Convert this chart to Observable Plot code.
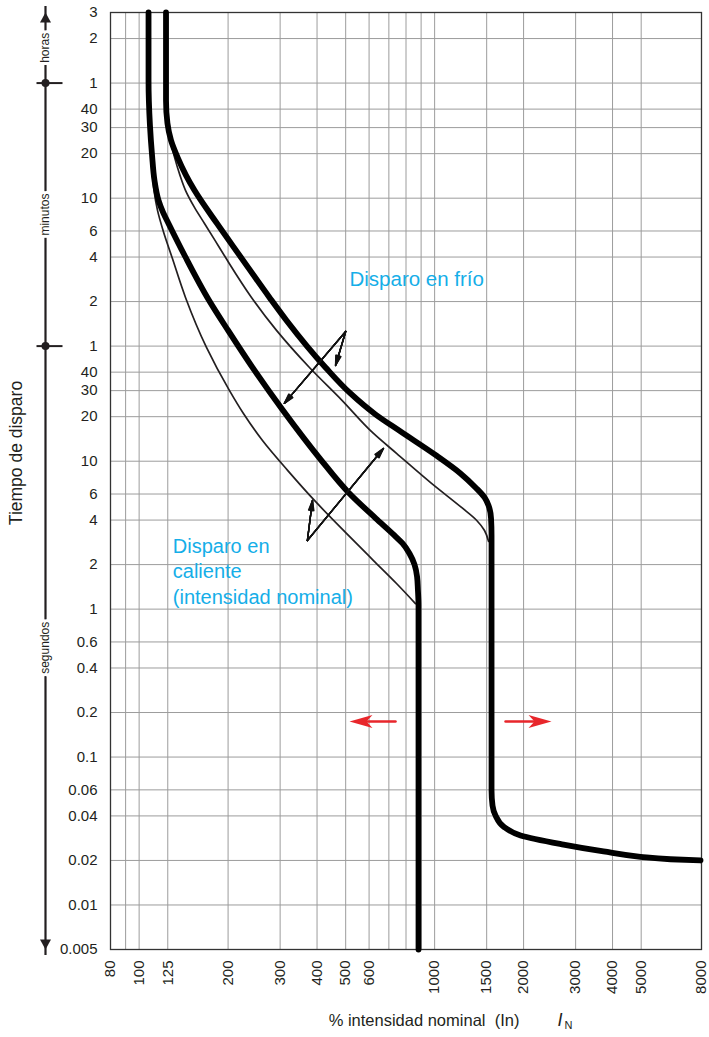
<!DOCTYPE html>
<html>
<head>
<meta charset="utf-8">
<script src="https://cdn.jsdelivr.net/npm/d3@7"></script>
<script src="https://cdn.jsdelivr.net/npm/@observablehq/plot@0.6"></script>
<style>
  html, body { margin: 0; padding: 0; background: #fff; }
  #chart svg { display: block; }
</style>
</head>
<body>
<div id="chart"></div>
<script>
// ---------- Axis definitions ----------
const xDomain = [80, 8000];                 // % intensidad nominal
const yDomain = [0.005, 10800];             // seconds (0.005 s ... 3 h)
const xTickValues = [80, 100, 125, 200, 300, 400, 500, 600, 1000, 1500, 2000, 3000, 4000, 5000, 8000];
const xGridValues = [80, 90, 100, 125, 200, 300, 400, 500, 600, 700, 800, 900, 1000, 1500, 2000, 3000, 4000, 5000, 8000];
const yTickValues = [10800, 7200, 3600, 2400, 1800, 1200, 600, 360, 240, 120, 60, 40, 30, 20, 10, 6, 4, 2, 1, 0.6, 0.4, 0.2, 0.1, 0.06, 0.04, 0.02, 0.01, 0.005];
const yTickLabels = ["3", "2", "1", "40", "30", "20", "10", "6", "4", "2", "1", "40", "30", "20", "10", "6", "4", "2", "1", "0.6", "0.4", "0.2", "0.1", "0.06", "0.04", "0.02", "0.01", "0.005"];

// time units on the left guide (seconds)
const unitNames = ["horas", "minutos", "segundos"];
const unitUpper = [10800, 3600, 60];
const unitLower = [3600, 60, 0.005];
const unitBreaks = [3600, 60];

// ---------- Curves (x: % In, y: seconds) ----------
// Disparo en frío – curva gruesa
const frioGruesaI = [123.3, 123.3, 123.3, 124.7, 128.2, 134.9, 144.1, 153.9, 183.4, 221.1, 276.1, 315.3, 427.4, 519, 631, 766, 1015, 1223, 1375, 1475, 1522, 1552, 1558, 1558, 1570, 1607, 1711, 1953, 2730, 3728, 4973, 6284, 7938];
const frioGruesaT = [10800, 5130, 2750, 1920, 1476, 1132, 856, 678, 405, 239, 128, 89.5, 43.0, 28.7, 20.7, 15.9, 10.9, 8.27, 6.65, 5.69, 5.02, 4.11, 3.15, 0.0594, 0.047, 0.0403, 0.0339, 0.0295, 0.0256, 0.0230, 0.02117, 0.02037, 0.01999];
// Disparo en frío – curva fina
const frioFinaI = [123.3, 123.3, 123.3, 124.7, 127.7, 131.8, 137.5, 143.5, 153.9, 166.4, 180.6, 195.9, 240, 291.7, 377, 484, 621, 743, 976, 1233, 1386, 1475, 1522];
const frioFinaT = [10800, 5130, 2750, 1920, 1476, 1132, 856, 678, 520, 405, 311, 239, 128, 76.6, 43.0, 26.0, 15.4, 11.3, 7.08, 4.87, 3.99, 3.40, 2.87];
// Disparo en caliente – curva gruesa
const calGruesaI = [107.6, 107.6, 108.8, 110.6, 112.7, 116.3, 120.5, 125.7, 143, 171.7, 200, 245.7, 305.6, 411, 511, 632, 731, 779, 822, 855, 872, 878, 882, 882];
const calGruesaT = [10800, 3750, 1860, 1168, 792, 580, 481, 405, 243, 124, 76.6, 41.1, 22.3, 10.3, 6.15, 4.11, 3.15, 2.78, 2.38, 2.0, 1.66, 1.34, 1.06, 0.005];
// Disparo en caliente – curva fina
const calFinaI = [107.6, 107.6, 108.8, 109.7, 111, 112.3, 115.4, 120.5, 129.2, 143.5, 169, 202, 225.4, 261.5, 318, 392, 503, 621, 743, 861];
const calFinaT = [10800, 3750, 1860, 1262, 856, 678, 496, 363, 239, 128, 58.8, 30.1, 21.0, 13.8, 8.67, 5.43, 3.25, 2.13, 1.49, 1.09];

// ---------- Annotations ----------
const labelFrio = "Disparo en frío";
const labelFrioPos = [515, 152];
const labelCaliente = "Disparo en\ncaliente\n(intensidad nominal)";
const labelCalientePos = [130, 1.09];
// black pointer arrows: [x1, y1, x2, y2]
const pointerArrows = [
  [500, 75.4, 310, 24.6],
  [500, 75.4, 462, 44.4],
  [371, 2.91, 671, 12.2],
  [371, 2.91, 386, 5.43]
];
// red arrows: [from, to] at time redArrowT
const redArrowT = 0.174;
const redArrows = [[737, 515], [1738, 2486]];

// ---------- Build ----------
const ink = "#231f20";
const cyan = "#15aee8";
const red = "#e8262b";
const gridColor = "#9c9c9c";
const font = "'Liberation Sans', Arial, Helvetica, sans-serif";

const toPts = (I, T) => I.map((v, i) => ({I: v, t: T[i]}));
const yTicks = yTickValues.map((v, i) => ({t: v, label: yTickLabels[i]}));
const units = unitNames.map((n, i) => ({name: n, t: Math.sqrt(unitUpper[i] * unitLower[i])}));
const arrows = pointerArrows.map(([x1, y1, x2, y2]) => ({x1, y1, x2, y2}));
const reds = redArrows.map(([a, b]) => ({x1: a, x2: b, t: redArrowT, dir: b > a ? 1 : -1}));

const symUp = {draw(c) { c.moveTo(0, 0); c.lineTo(5.5, 10); c.lineTo(-5.5, 10); c.closePath(); }};
const symDown = {draw(c) { c.moveTo(0, 0); c.lineTo(5.5, -10); c.lineTo(-5.5, -10); c.closePath(); }};
const symTick = {draw(c) { c.moveTo(-9, 0); c.lineTo(17, 0); }};
const symHeadRight = {draw(c) { c.moveTo(0, 0); c.lineTo(-23, -6.5); c.lineTo(-17, 0); c.lineTo(-23, 6.5); c.closePath(); }};
const symHeadLeft = {draw(c) { c.moveTo(0, 0); c.lineTo(23, -6.5); c.lineTo(17, 0); c.lineTo(23, 6.5); c.closePath(); }};

const guideDx = -65;
const lineOpts = {x: "I", y: "t", curve: "monotone-y", strokeLinecap: "round", strokeLinejoin: "round"};

const chart = Plot.plot({
  width: 709,
  height: 1037,
  marginLeft: 110,
  marginRight: 8,
  marginTop: 12,
  marginBottom: 88,
  x: {type: "log", domain: xDomain, axis: null},
  y: {type: "log", domain: yDomain, axis: null},
  style: {fontFamily: font, fontSize: "15px", color: ink, background: "#fff"},
  marks: [
    // grid
    Plot.ruleX(xGridValues, {stroke: gridColor, strokeWidth: 1}),
    Plot.ruleY(yTickValues, {stroke: gridColor, strokeWidth: 1}),
    Plot.frame({stroke: "#333", strokeWidth: 1.3}),

    // tick labels
    Plot.text(yTicks, {y: "t", text: "label", frameAnchor: "left", textAnchor: "end", lineAnchor: "middle", dx: -13, fontSize: 15, fill: ink}),
    Plot.text(xTickValues, {x: d => d, text: d => String(d), frameAnchor: "bottom", rotate: -90, textAnchor: "end", lineAnchor: "middle", dy: 11, fontSize: 15, fill: ink}),

    // left time-unit guide
    Plot.ruleX([xDomain[0]], {y1: yDomain[0], y2: yDomain[1], dx: guideDx, stroke: ink, strokeWidth: 2.2, insetTop: 6, insetBottom: 6}),
    Plot.dot([yDomain[1]], {y: d => d, frameAnchor: "left", dx: guideDx, symbol: symUp, fill: ink, stroke: "none"}),
    Plot.dot([yDomain[0]], {y: d => d, frameAnchor: "left", dx: guideDx, symbol: symDown, fill: ink, stroke: "none"}),
    Plot.dot(unitBreaks, {y: d => d, frameAnchor: "left", dx: guideDx, symbol: symTick, fill: "none", stroke: ink, strokeWidth: 2}),
    Plot.dot(unitBreaks, {y: d => d, frameAnchor: "left", dx: guideDx, r: 4, fill: ink, stroke: "none"}),
    Plot.text(units, {y: "t", text: "name", frameAnchor: "left", dx: guideDx, rotate: -90, textAnchor: "middle", lineAnchor: "middle", fontSize: 12, fill: "#fff", stroke: "#fff", strokeWidth: 6}),
    Plot.text(units, {y: "t", text: "name", frameAnchor: "left", dx: guideDx, rotate: -90, textAnchor: "middle", lineAnchor: "middle", fontSize: 12, fill: ink}),

    // axis titles
    Plot.text(["Tiempo de disparo"], {text: d => d, frameAnchor: "left", dx: -89, dy: -28, rotate: -90, textAnchor: "middle", lineAnchor: "bottom", fontSize: 17.5, fill: ink}),
    Plot.text(["% intensidad nominal\u00a0\u00a0(In)"], {text: d => d, frameAnchor: "bottom", dx: 18, dy: 76, textAnchor: "middle", lineAnchor: "bottom", fontSize: 16.5, fill: ink}),
    Plot.text(["I"], {text: d => d, frameAnchor: "bottom", dx: 151.5, dy: 76, textAnchor: "start", lineAnchor: "bottom", fontSize: 18, fontStyle: "italic", fill: ink}),
    Plot.text(["N"], {text: d => d, frameAnchor: "bottom", dx: 158.5, dy: 79, textAnchor: "start", lineAnchor: "bottom", fontSize: 11, fill: ink}),

    // curves: thin first, thick on top
    Plot.line(toPts(frioFinaI, frioFinaT), {...lineOpts, stroke: ink, strokeWidth: 1.7}),
    Plot.line(toPts(calFinaI, calFinaT), {...lineOpts, stroke: ink, strokeWidth: 1.7}),
    Plot.line(toPts(frioGruesaI, frioGruesaT), {...lineOpts, stroke: "#000", strokeWidth: 5.8}),
    Plot.line(toPts(calGruesaI, calGruesaT), {...lineOpts, stroke: "#000", strokeWidth: 5.8}),

    // pointer arrows (several head angles overlaid to give a filled head)
    ...[0, 8, 16, 24, 30].map(a => Plot.arrow(arrows, {x1: "x1", y1: "y1", x2: "x2", y2: "y2", stroke: "#111", strokeWidth: 1.4, headAngle: a, headLength: 11})),

    // red arrows
    Plot.arrow(reds, {x1: "x1", y1: "t", x2: "x2", y2: "t", stroke: red, strokeWidth: 2.6, headLength: 0, insetEnd: 14}),
    Plot.dot(reds.filter(d => d.dir > 0), {x: "x2", y: "t", symbol: symHeadRight, fill: red, stroke: "none"}),
    Plot.dot(reds.filter(d => d.dir < 0), {x: "x2", y: "t", symbol: symHeadLeft, fill: red, stroke: "none"}),

    // labels
    Plot.text([labelFrio], {text: d => d, x: () => labelFrioPos[0], y: () => labelFrioPos[1], textAnchor: "start", lineAnchor: "bottom", fontSize: 20.5, fill: cyan}),
    Plot.text([labelCaliente], {text: d => d, x: () => labelCalientePos[0], y: () => labelCalientePos[1], textAnchor: "start", lineAnchor: "bottom", lineHeight: 1.26, fontSize: 20, fill: cyan})
  ]
});

document.getElementById("chart").appendChild(chart);
</script>
</body>
</html>
